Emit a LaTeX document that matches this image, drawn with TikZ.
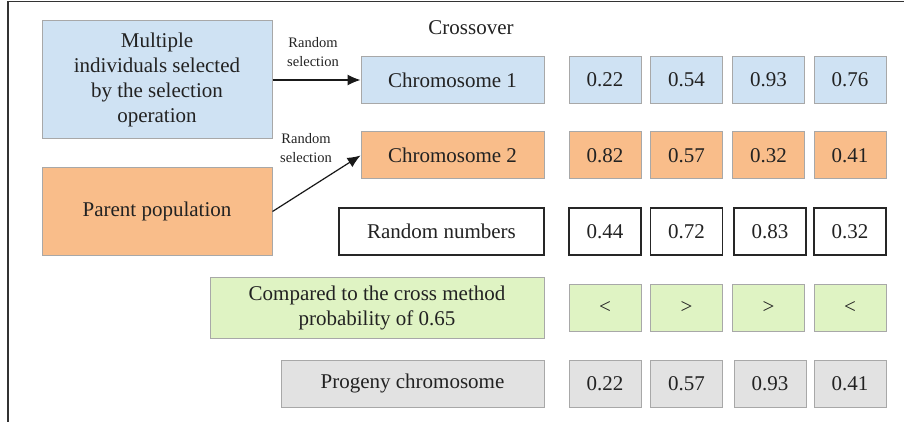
\documentclass[tikz,border=0pt]{standalone}
\usepackage{fontspec}
\setmainfont{Liberation Serif}
\usetikzlibrary{arrows.meta}
\definecolor{cblue}{HTML}{CFE2F3}
\definecolor{corange}{HTML}{F9BD8A}
\definecolor{cgreen}{HTML}{DFF3C3}
\definecolor{cgray}{HTML}{E2E2E2}
\definecolor{cborder}{HTML}{A8A8A8}
\definecolor{ctext}{HTML}{222222}
\tikzset{
  box/.style={rectangle, inner sep=0pt, align=center, text=ctext,
    font=\fontsize{21}{25}\selectfont, line width=1pt, draw=cborder},
  bluebox/.style={box, fill=cblue},
  orangebox/.style={box, fill=corange},
  greenbox/.style={box, fill=cgreen},
  graybox/.style={box, fill=cgray},
  whitebox/.style={box, fill=white, draw=black!85, line width=1.1pt},
  cell/.style={minimum width=72pt, minimum height=47pt},
  lbl/.style={font=\fontsize{14.5}{19}\selectfont, align=center, text=ctext},
  conn/.style={line width=1.2pt, -{Latex[length=13pt,width=11pt]}, black!90}
}
\begin{document}
\begin{tikzpicture}[x=1pt,y=-1pt]
\useasboundingbox (0,0) rectangle (904,422);
\draw[line width=1.5pt, black!80] (8,422) -- (8,1.5) -- (904,1.5);

\node[lbl, font=\fontsize{21}{24}\selectfont] (title) at (471,28) {Crossover};

\node[bluebox, minimum width=230pt, minimum height=118pt] (sel) at (157,80)
  {Multiple\\individuals selected\\by the selection\\operation};
\node[orangebox, minimum width=230pt, minimum height=87pt] (par) at (157,211.5)
  {Parent population};

\node[bluebox, minimum width=183pt, minimum height=47pt] (ch1) at (452.5,80) {Chromosome 1};
\node[orangebox, minimum width=183pt, minimum height=47pt] (ch2) at (452.5,155.5) {Chromosome 2};
\node[whitebox, minimum width=205pt, minimum height=47pt] (rnd) at (441.5,231.5) {Random numbers};
\node[greenbox, minimum width=334pt, minimum height=61pt] (cmp) at (377,307.5)
  {Compared to the cross method\\probability of 0.65};
\node[graybox, minimum width=263pt, minimum height=47pt] (prg) at (412.5,383.5) {Progeny chromosome};

% row 1
\node[bluebox, cell] (a1) at (605,80) {0.22};
\node[bluebox, cell] (a2) at (686.5,80) {0.54};
\node[bluebox, cell] (a3) at (768.5,80) {0.93};
\node[bluebox, cell] (a4) at (850,80) {0.76};
% row 2
\node[orangebox, cell] (b1) at (605,155.5) {0.82};
\node[orangebox, cell] (b2) at (686.5,155.5) {0.57};
\node[orangebox, cell] (b3) at (768.5,155.5) {0.32};
\node[orangebox, cell] (b4) at (850,155.5) {0.41};
% row 3
\node[whitebox, cell] (c1) at (605,231.5) {0.44};
\node[whitebox, cell] (c2) at (686.5,231.5) {0.72};
\node[whitebox, cell] (c3) at (770,231.5) {0.83};
\node[whitebox, cell] (c4) at (850,231.5) {0.32};
% row 4
\node[greenbox, cell] (d1) at (605,307.5) {<};
\node[greenbox, cell] (d2) at (686.5,307.5) {>};
\node[greenbox, cell] (d3) at (768.5,307.5) {>};
\node[greenbox, cell] (d4) at (850,307.5) {<};
% row 5
\node[graybox, cell] (e1) at (605,383.5) {0.22};
\node[graybox, cell] (e2) at (686.5,383.5) {0.57};
\node[graybox, cell] (e3) at (770,383.5) {0.93};
\node[graybox, cell] (e4) at (850,383.5) {0.41};

\draw[conn] (sel.east) -- (ch1.west);
\draw[conn] (par.east) -- (ch2.west);
\node[lbl] (l1) at (313,52) {Random\\selection};
\node[lbl] (l2) at (306,148) {Random\\selection};
\end{tikzpicture}
\end{document}
